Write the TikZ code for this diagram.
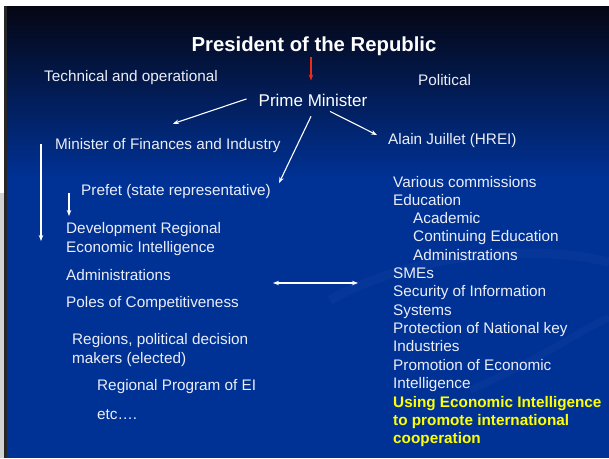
\documentclass[tikz,border=0pt]{standalone}
\usepackage{fontspec}
\setmainfont{Liberation Sans}
\usetikzlibrary{calc,positioning,arrows.meta}
\definecolor{slidetop}{RGB}{5,6,20}
\definecolor{slideblue}{RGB}{0,50,150}
\definecolor{txt}{RGB}{236,238,246}
\definecolor{hilite}{RGB}{255,255,0}
\definecolor{redarrow}{RGB}{235,45,20}

\begin{document}
\begin{tikzpicture}[x=1pt,y=-1pt,
    item/.style={anchor=base west, inner sep=0pt, text=txt,
        font=\fontsize{15.3}{18.3}\selectfont, align=left},
    link/.style={-{Stealth[length=6pt,width=4.5pt]}, line width=1.1pt, white}]
    \useasboundingbox (0,0) rectangle (609,458);

    % slide background
    \fill[white] (0,0) rectangle (609,458);
    \fill[gray!35] (0,193) rectangle (5,458);
    \fill[slideblue] (5,6) rectangle (609,458);
    \shade[top color=slidetop, bottom color=slideblue] (5,6) rectangle (609,180);
    \fill[black!85] (4,6) rectangle (7,458);
    % faint swirl
    \draw[white, opacity=0.025, line width=9pt] (330,300) .. controls (420,250) and (540,245) .. (609,262);
    \draw[white, opacity=0.02, line width=7pt] (470,390) .. controls (540,360) and (580,330) .. (609,318);

    % top of the hierarchy
    \node[anchor=base, inner sep=0pt, text=white, font=\fontsize{20.3}{24}\selectfont\bfseries]
        (pres) at (314,51) {President of the Republic};
    \node[anchor=base, inner sep=0pt, text=white, font=\fontsize{17}{20}\selectfont]
        (pm) at (313,106) {Prime Minister};
    \node[item] (tech) at (44,81) {Technical and operational};
    \node[item] (polit) at (418,85) {Political};

    % technical side (multi-line items sit on their last baseline)
    \node[item] (fin) at (55,149) {Minister of Finances and Industry};
    \node[item] (prefet) at (81,195) {Prefet (state representative)};
    \node[item] (dev) at (66,252) {Development Regional\\Economic Intelligence};
    \node[item] (admin) at (66,280) {Administrations};
    \node[item] (poles) at (66,307) {Poles of Competitiveness};
    \node[item] (regions) at (72,363) {Regions, political decision\\makers (elected)};
    \node[item] (prog) at (97,390) {Regional Program of EI};
    \node[item] (etc) at (97,419) {etc\dots.};

    % political side
    \node[item] (alain) at (388,144) {Alain Juillet (HREI)};
    \node[item] (tasks) at (393,388.3) {Various commissions\\
        Education\\
        \hspace*{20pt}Academic\\
        \hspace*{20pt}Continuing Education\\
        \hspace*{20pt}Administrations\\
        SMEs\\
        Security of Information\\
        Systems\\
        Protection of National key\\
        Industries\\
        Promotion of Economic\\
        Intelligence};
    \node[item, text=hilite, font=\fontsize{15.3}{18.3}\selectfont\bfseries] (coop) at (393,443.6)
        {Using Economic Intelligence\\to promote international\\cooperation};

    % links
    \draw[-{Stealth[length=6pt,width=4.5pt]}, line width=1.1pt, redarrow]
        ($(pres.south)+(-3,2)$) -- ($(pm.north)+(-2,-13)$);
    \draw[link] ($(pm.west)+(-12,-1)$) -- ($(fin.north)+(5,-14)$);
    \draw[link] ($(pm.south)+(-2,10)$) -- ($(prefet.east)+(8,-8)$);
    \draw[link] ($(pm.south)+(17,5)$) -- ($(alain.west)+(-11,-5)$);
    \draw[link] ($(fin.west)+(-14,-1)$) -- ($(fin.west)+(-14,96)$);
    \draw[link] ($(prefet.west)+(-12,2)$) -- ($(prefet.west)+(-12,25)$);
    \coordinate (lhs) at (273,283);
    \coordinate (rhs) at (358,283);
    \draw[link, {Stealth[length=6pt,width=4.5pt]}-{Stealth[length=6pt,width=4.5pt]}] (lhs) -- (rhs);
\end{tikzpicture}
\end{document}
